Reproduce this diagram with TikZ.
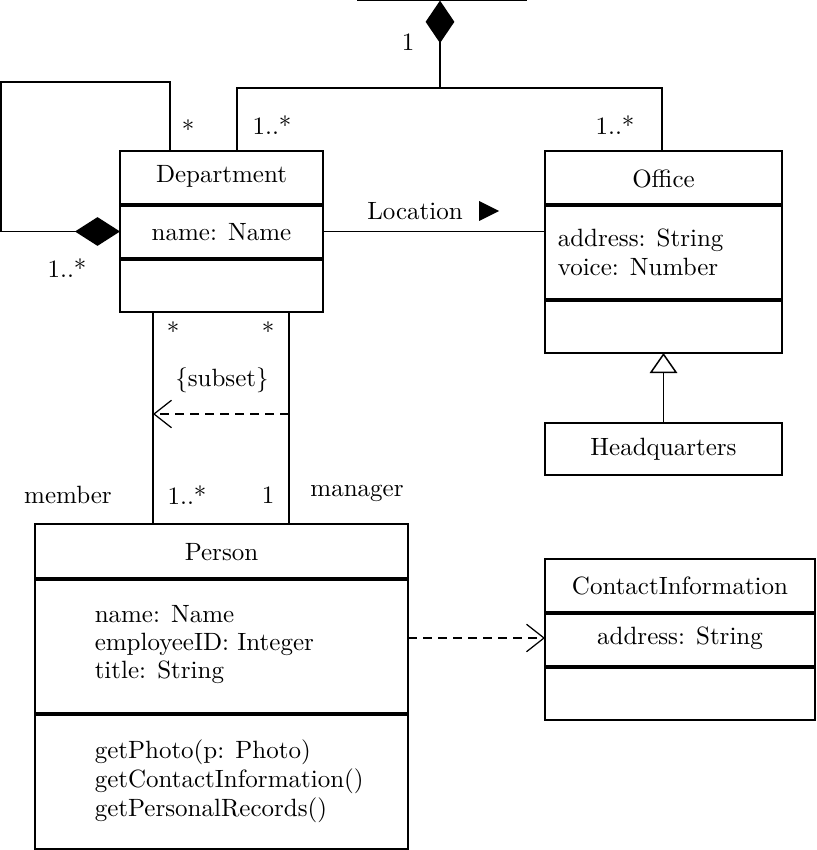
\documentclass[tikz,border=0pt]{standalone}
\usetikzlibrary{arrows.meta}
\begin{document}
\begin{tikzpicture}[x=0.4pt,y=-0.4pt, line width=0.6pt,
  box/.style={draw, rectangle, inner sep=0pt, outer sep=0pt, anchor=north west, line width=0.7pt},
  sep/.style={line width=1.5pt},
  lbl/.style={inner sep=0pt},
  depline/.style={dash pattern=on 3.6pt off 2.4pt, line width=0.5pt},
  openarrow/.style={-{Straight Barb[length=7pt,width=11pt]}}]
\useasboundingbox (0,0) rectangle (816,850);

% class boxes
\node[box, minimum width=81.2pt, minimum height=64.4pt] (dept) at (120,151) {};
\node[box, minimum width=94.8pt, minimum height=80.8pt] (office) at (545,151) {};
\node[box, minimum width=94.8pt, minimum height=20.8pt] (hq) at (545,423) {Headquarters};
\node[box, minimum width=149.2pt, minimum height=130pt] (person) at (35,524) {};
\node[box, minimum width=108pt, minimum height=64.4pt] (ci) at (545,559) {};

% separators
\draw[sep] ([yshift=-21.6pt]dept.north west) -- ([yshift=-21.6pt]dept.north east);
\draw[sep] ([yshift=-43.2pt]dept.north west) -- ([yshift=-43.2pt]dept.north east);
\draw[sep] ([yshift=-21.6pt]office.north west) -- ([yshift=-21.6pt]office.north east);
\draw[sep] ([yshift=-59.6pt]office.north west) -- ([yshift=-59.6pt]office.north east);
\draw[sep] ([yshift=-22pt]person.north west) -- ([yshift=-22pt]person.north east);
\draw[sep] ([yshift=-76pt]person.north west) -- ([yshift=-76pt]person.north east);
\draw[sep] ([yshift=-21.6pt]ci.north west) -- ([yshift=-21.6pt]ci.north east);
\draw[sep] ([yshift=-43.2pt]ci.north west) -- ([yshift=-43.2pt]ci.north east);

% texts in boxes
\node[lbl] (deptT) at (221.5,176) {Department};
\node[lbl] (deptA) at (221.5,232) {name: Name};
\node[lbl] (offT) at (663.5,179) {Office};
\node[lbl, anchor=west, align=left] (offA) at (557,252) {address: String\\[-0.4pt]voice: Number};
\node[lbl] (perT) at (221.5,552) {Person};
\node[lbl, anchor=west, align=left] (perA) at (94,645) {name: Name\\[-0.8pt]employeeID: Integer\\[-0.8pt]title: String};
\node[lbl, anchor=west, align=left] (perO) at (94,781) {getPhoto(p: Photo)\\[-0.4pt]getContactInformation()\\[-0.4pt]getPersonalRecords()};
\node[lbl] (ciT) at (680,586) {ContactInformation};
\node[lbl] (ciA) at (680,638) {address: String};

% composition at top
\coordinate (topL) at (357,0.6);
\coordinate (topR) at (527,0.6);
\draw (topL) -- (topR);
\coordinate (whole) at (440,0.6);
\coordinate (junc) at (440,88);
\coordinate (jl) at (237,88);
\coordinate (jr) at (662,88);
\draw[-{Diamond[fill=black,length=17pt,width=11.5pt]}] (junc) -- (whole);
\draw (dept.north -| jl) -- (jl) -- (jr) -- (office.north -| jr);

% self association
\coordinate (s1) at (170,82);
\coordinate (s2) at (0.8,82);
\draw[-{Diamond[fill=black,length=18pt,width=11.5pt]}] (dept.north -| s1) -- (s1) -- (s2) |- (dept.west);

% location
\draw (dept.east) -- (dept.east -| office.west);
\node[lbl] (loc) at (415,211) {Location};
\fill ([xshift=6.2pt,yshift=4pt]loc.east) -- ++(8pt,-4pt) -- ++(-8pt,-4pt) -- cycle;

% generalization
\draw[-{Triangle[open,length=8pt,width=11pt]}] (hq.north) -- (office.south);

% member / manager
\coordinate (m1) at ([xshift=13.2pt]dept.south west);
\coordinate (m2) at ([xshift=67.6pt]dept.south west);
\draw (m1) -- (m1 |- person.north);
\draw (m2) -- (m2 |- person.north);
\coordinate (sub) at (0,414);
\draw[depline, openarrow] (m2 |- sub) -- (m1 |- sub);

% dependency person -> contact information
\draw[depline, openarrow] (ciA -| person.east) -- (ciA -| ci.west);

% multiplicities and role labels
\node[lbl] (mTop) at (408,42) {1};
\node[lbl] (mDepTop) at (272,125) {1..*};
\node[lbl] (mOffTop) at (615,125) {1..*};
\node[lbl] (mSelfA) at (188,129) {*};
\node[lbl] (mSelfB) at (67,268) {1..*};
\node[lbl] (mMemD) at (173,331) {*};
\node[lbl] (mManD) at (268,331) {*};
\node[lbl] (subset) at (222,380) {\{subset\}};
\node[lbl] (member) at (68,495) {member};
\node[lbl] (mMemP) at (187,495) {1..*};
\node[lbl] (mManP) at (268,495) {1};
\node[lbl] (manager) at (357,493) {manager};
\end{tikzpicture}
\end{document}
